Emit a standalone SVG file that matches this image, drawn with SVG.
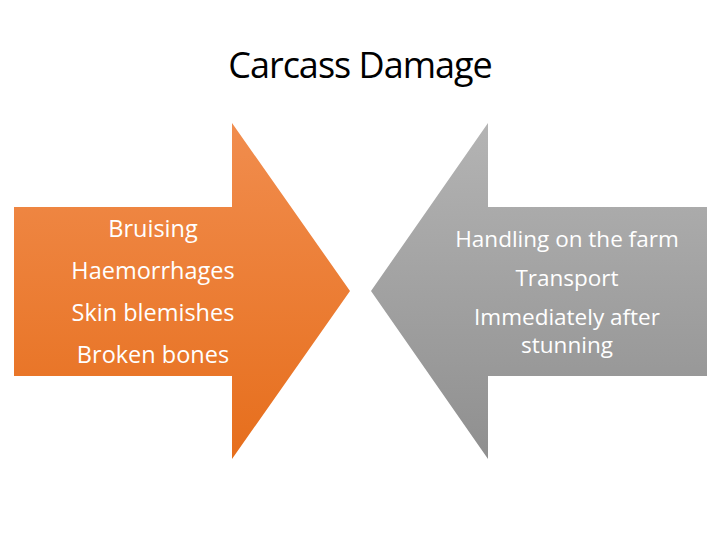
<svg xmlns="http://www.w3.org/2000/svg" width="720" height="540" viewBox="0 0 720 540">
<defs>
<linearGradient id="gOrange" gradientUnits="userSpaceOnUse" x1="0" y1="122" x2="0" y2="460">
<stop offset="0" stop-color="#F18D4E"/>
<stop offset="1" stop-color="#E66E1C"/>
</linearGradient>
<linearGradient id="gGrey" gradientUnits="userSpaceOnUse" x1="0" y1="122" x2="0" y2="460">
<stop offset="0" stop-color="#B4B4B4"/>
<stop offset="1" stop-color="#8F8F8F"/>
</linearGradient>
<style>
.title{font-family:"Open Sans","Liberation Sans",sans-serif;font-size:36px;fill:#000;text-anchor:middle;letter-spacing:-1px}
.lbl{font-family:"Open Sans","Liberation Sans",sans-serif;font-size:22.5px;fill:#fff;text-anchor:middle}
.lbl.l{font-size:23.5px}
</style>
</defs>
<text class="title" x="360" y="78">Carcass Damage</text>
<g id="damage">
<polygon points="14,207 232,207 232,123 350,291 232,459 232,376 14,376" fill="url(#gOrange)"/>
<text class="lbl l" x="153" y="237">Bruising</text>
<text class="lbl l" x="153" y="279">Haemorrhages</text>
<text class="lbl l" x="153" y="321">Skin blemishes</text>
<text class="lbl l" x="153" y="363">Broken bones</text>
</g>
<g id="causes">
<polygon points="707,207 488,207 488,123 371,291 488,459 488,376 707,376" fill="url(#gGrey)"/>
<text class="lbl" x="567" y="247">Handling on the farm</text>
<text class="lbl" x="567" y="286">Transport</text>
<text class="lbl" x="567" y="325">Immediately after</text>
<text class="lbl" x="567" y="353">stunning</text>
</g>
<g id="connectors"/>
</svg>
